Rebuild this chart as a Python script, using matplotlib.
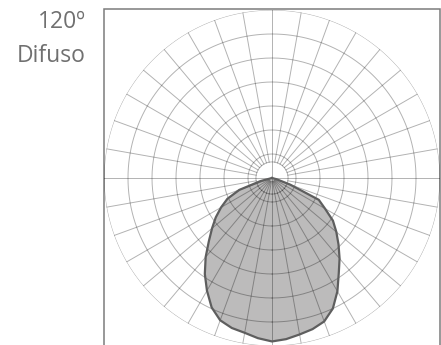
import numpy as np
import matplotlib.pyplot as plt
from matplotlib.patches import Rectangle

# photometric curve: angle from nadir (deg), right side positive; intensity in ring units
angles = [-90, -80, -75, -70, -65, -60, -55, -50, -45, -40, -35, -30, -25, -20, -15, -10, -5, 0,
          5, 10, 15, 20, 25, 30, 35, 40, 45, 50, 55, 60, 65, 70, 75, 80, 90]
intensity = [0, 0, 0.5, 1.45, 2.05, 2.45, 2.86, 3.26, 3.72, 4.3, 4.88, 5.42, 5.95, 6.31, 6.47, 6.55, 6.7, 6.81,
             6.74, 6.62, 6.52, 6.36, 6.0, 5.45, 4.85, 4.38, 3.92, 3.5, 3.1, 2.55, 2.15, 0.8, 0.2, 0, 0]

ring_values = [1, 2, 3, 4, 5, 6, 7]
inner_ring = 0.67
spoke_angles = list(range(0, 360, 10))

title_top = "120º"
title_bottom = "Difuso"

W, H = 441, 345
fig = plt.figure(figsize=(W / 100, H / 100), dpi=100)
fig.patch.set_facecolor("white")

# frame around diagram
fig.add_artist(Rectangle((103.5 / W, -0.1), (440 - 103.5) / W, 1.1 - 9.5 / H,
                         transform=fig.transFigure, fill=False,
                         edgecolor="#7c7c7c", linewidth=1.1, zorder=0))

ax = fig.add_axes([104 / W, -1 / H, 336 / W, 336 / H], projection="polar")
ax.set_theta_zero_location("S")
ax.set_theta_direction(1)
ax.set_ylim(0, 7)
ax.set_xticks([])
ax.set_yticks([])
ax.grid(False)
ax.spines["polar"].set_visible(False)
ax.patch.set_visible(False)

th = np.deg2rad(angles)
poly = ax.fill(th, intensity, facecolor="#bcbbbb", edgecolor="none", zorder=1)[0]

grid_kw = dict(color="black", alpha=0.3, linewidth=0.7, zorder=2)
circ = np.linspace(0, 2 * np.pi, 361)
for rv in ring_values + [inner_ring]:
    ax.plot(circ, np.full_like(circ, rv), **grid_kw)
for a in spoke_angles:
    t = np.deg2rad(a)
    r0 = 0 if a % 90 == 0 else inner_ring
    ax.plot([t, t], [r0, 7], **grid_kw)
    if r0 > 0:
        ln, = ax.plot([t, t], [0.15, r0], **grid_kw)
        ln.set_clip_path(poly)

ax.plot(th, intensity, color="#5e5e5e", linewidth=1.6, zorder=3, solid_joinstyle="round")

fig.text(86 / W, 1 - 28 / H, title_top, ha="right", va="baseline",
         fontsize=16.5, color="#707070", family="Open Sans")
fig.text(86 / W, 1 - 62 / H, title_bottom, ha="right", va="baseline",
         fontsize=16.5, color="#707070", family="Open Sans")

fig.savefig("out.png", dpi=100)
